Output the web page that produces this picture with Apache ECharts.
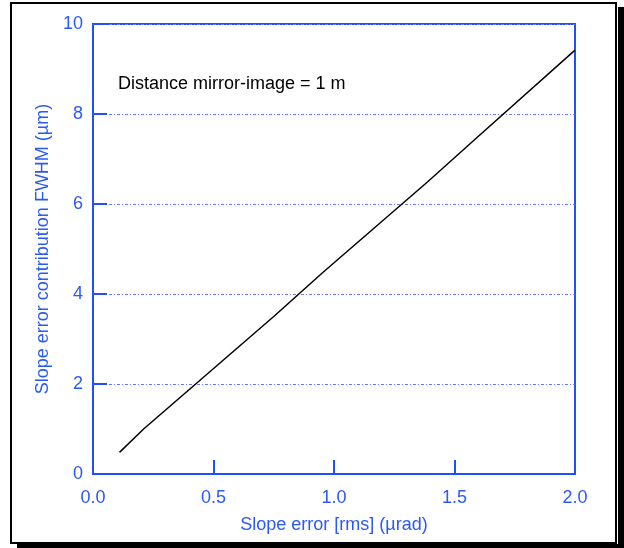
<!DOCTYPE html>
<html><head><meta charset="utf-8">
<script src="https://cdn.jsdelivr.net/npm/echarts@6/dist/echarts.min.js"></script>
<style>html,body{margin:0;padding:0;background:#fff}#c{width:624px;height:548px}</style>
</head><body><div id="c"></div>
<script>
const slopeError = [0.11, 0.21, 0.75, 0.95, 1.39, 1.59, 2.0];
const fwhm = [0.48, 1.0, 3.5, 4.46, 6.5, 7.46, 9.42];
const xTicks = [0, 0.5, 1.0, 1.5, 2.0];
const yTicks = [0, 2, 4, 6, 8, 10];
const annotation = 'Distance mirror-image = 1 m';
const xName = 'Slope error [rms] (\u00b5rad)';
const yName = 'Slope error contribution FWHM (\u00b5m)';

const AX = '#1f4fff', TX = '#2a5af5', FONT = 'Liberation Sans, Arial, sans-serif';
const chart = echarts.init(document.getElementById('c'));
chart.setOption({
  animation: false,
  backgroundColor: '#fff',
  grid: { left: 93, right: 49, top: 24, bottom: 74, show: true, borderColor: AX, borderWidth: 2 },
  xAxis: {
    type: 'value', min: 0, max: 2, interval: 0.5,
    name: xName, nameLocation: 'middle', nameGap: 42,
    nameTextStyle: { color: TX, fontSize: 18, fontFamily: FONT },
    axisLine: { show: true, lineStyle: { color: AX, width: 2 } },
    axisTick: { show: true, inside: true, length: 14, lineStyle: { color: AX, width: 2 } },
    axisLabel: { color: TX, fontSize: 18, fontFamily: FONT, margin: 15,
      formatter: v => v.toFixed(1) },
    splitLine: { show: false }
  },
  yAxis: {
    type: 'value', min: 0, max: 10, interval: 2,
    name: yName, nameLocation: 'middle', nameGap: 35,
    nameTextStyle: { color: TX, fontSize: 18, fontFamily: FONT },
    axisLine: { show: true, lineStyle: { color: AX, width: 2 } },
    axisTick: { show: true, inside: true, length: 14, lineStyle: { color: AX, width: 2 } },
    axisLabel: { color: TX, fontSize: 18, fontFamily: FONT, margin: 10 },
    splitLine: { show: true, lineStyle: { color: '#6a7aff', width: 1, type: [3, 2, 1, 2] } }
  },
  graphic: [
    { type: 'rect', shape: { x: 618, y: 7, width: 6, height: 541 }, style: { fill: '#000' }, silent: true },
    { type: 'rect', shape: { x: 17, y: 544, width: 607, height: 4 }, style: { fill: '#000' }, silent: true },
    { type: 'rect', shape: { x: 11, y: 3, width: 605, height: 540 }, style: { fill: 'none', stroke: '#000', lineWidth: 2 }, silent: true, z: 100 },
    { type: 'text', left: 118, top: 75, style: { text: annotation, fill: '#000', font: '18px ' + FONT }, silent: true }
  ],
  series: [{
    type: 'line', data: slopeError.map((x, i) => [x, fwhm[i]]),
    showSymbol: false, symbol: 'none',
    lineStyle: { color: '#000', width: 1.5 }
  }]
});
</script></body></html>
